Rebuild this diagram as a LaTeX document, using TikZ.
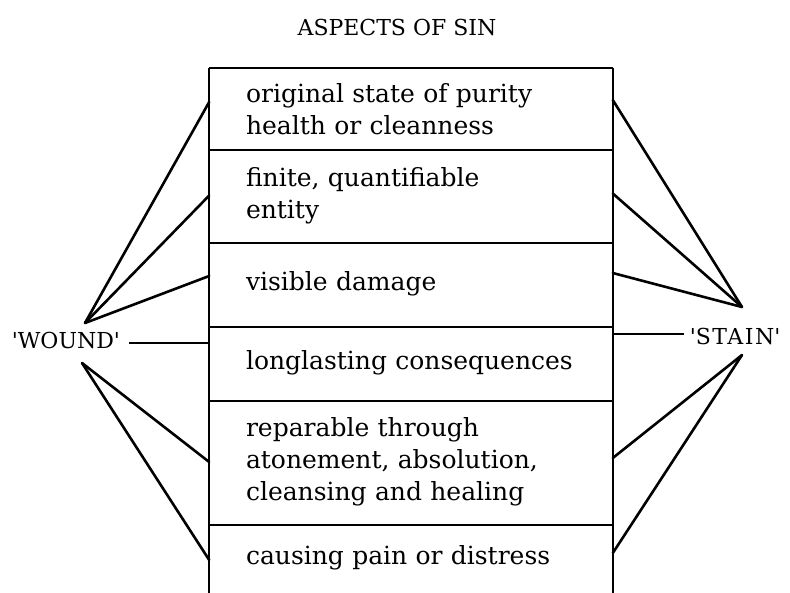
\documentclass[tikz,border=0pt]{standalone}
\usepackage{fontspec}
\setmainfont{DejaVu Serif}
\begin{document}
\begin{tikzpicture}[x=1pt,y=-1pt,
  line width=1.6pt,
  rowbox/.style={rectangle, minimum width=402pt, text width=330pt, inner xsep=36pt, inner ysep=0pt, align=left, font=\fontsize{25}{32}\selectfont},
  conn/.style={line width=2.6pt, line cap=round},
  lbl/.style={font=\fontsize{22}{26}\selectfont, inner sep=0pt}]
\useasboundingbox (0,0) rectangle (790,592);
\node[lbl] (title) at (397,27) {ASPECTS OF SIN};
\node[rowbox, minimum height=80pt]  (r1) at (411,109) {original state of purity\\health or cleanness};
\node[rowbox, minimum height=93pt]  (r2) at (411,195.5) {finite, quantifiable\\entity};
\node[rowbox, minimum height=84pt]  (r3) at (411,284) {visible damage};
\node[rowbox, minimum height=74pt]  (r4) at (411,363) {longlasting consequences};
\node[rowbox, minimum height=124pt] (r5) at (411,462) {reparable through\\atonement, absolution,\\cleansing and healing};
\node[rowbox, minimum height=68pt]  (r6) at (411,558) {causing pain or distress};
% frame
\draw (r1.north west) -- (r1.north east);
\draw (r1.north west) -- (r6.south west);
\draw (r1.north east) -- (r6.south east);
\foreach \r in {r1,r2,r3,r4,r5}{\draw (\r.south west) -- (\r.south east);}
% labels
\node[lbl, anchor=west] (wound) at (11,340) {\textquotesingle WOUND\textquotesingle};
\node[lbl, anchor=west] (stain) at (689,336) {\addfontfeatures{LetterSpace=7}\textquotesingle STAIN\textquotesingle};
\coordinate (wu) at (85,323);
\coordinate (wl) at (82,363);
\coordinate (su) at (742,307);
\coordinate (sl) at (742,355);
% wound connectors
\draw (wound.east) ++(8,3) coordinate (we) -- (we -| r4.west);
\draw[conn] (wu) -- ([yshift=7pt]r1.west);
\draw[conn] (wu) -- (r2.west);
\draw[conn] (wu) -- ([yshift=8pt]r3.west);
\draw[conn] (wl) -- (r5.west);
\draw[conn] (wl) -- ([yshift=-2pt]r6.west);
% stain connectors
\draw (stain.west) ++(-5,-2) coordinate (se) -- (se -| r4.east);
\draw[conn] (su) -- ([yshift=9pt]r1.east);
\draw[conn] (su) -- ([yshift=2pt]r2.east);
\draw[conn] (su) -- ([yshift=11pt]r3.east);
\draw[conn] (sl) -- ([yshift=4pt]r5.east);
\draw[conn] (sl) -- ([yshift=5pt]r6.east);
\end{tikzpicture}
\end{document}
